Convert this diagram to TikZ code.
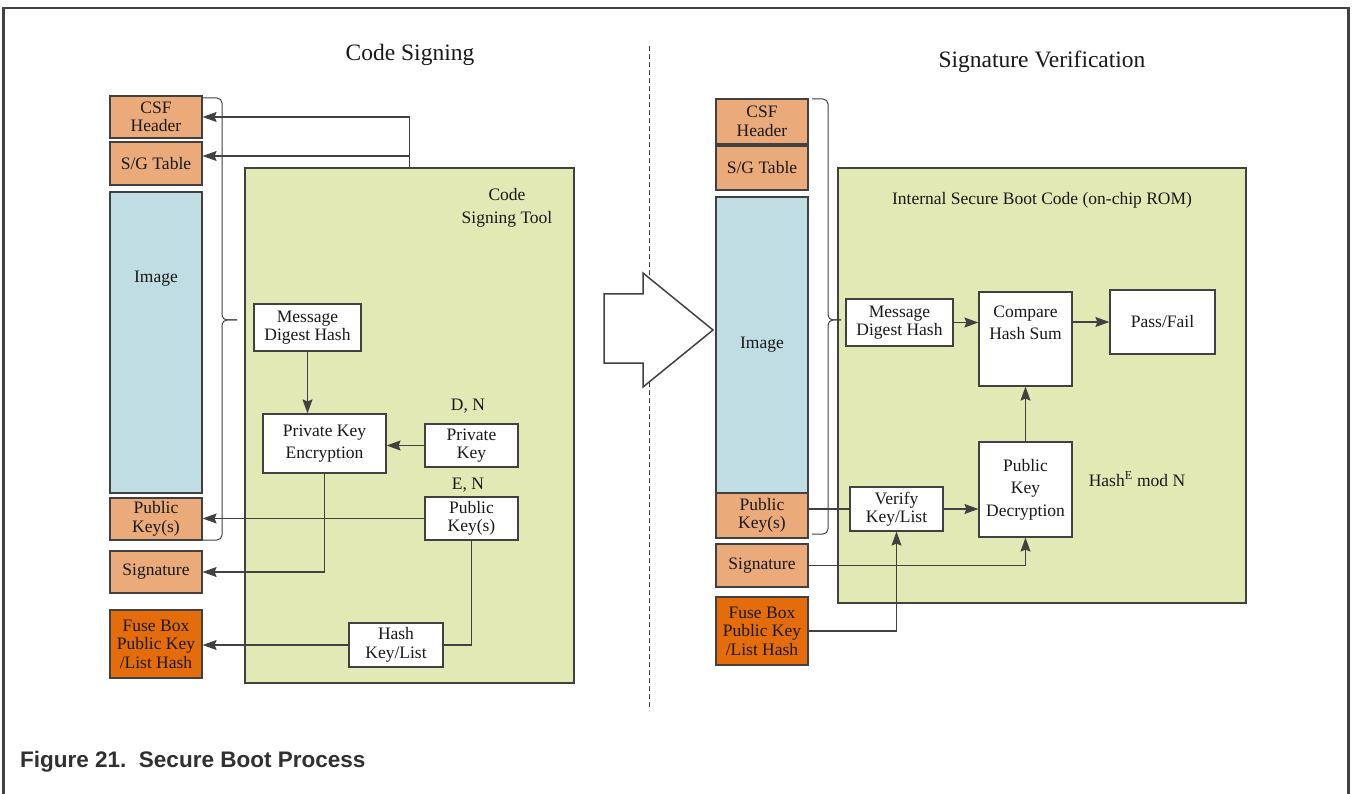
\documentclass[tikz,border=0pt]{standalone}
\usepackage{fontspec}
\setmainfont{Liberation Serif}
\newfontfamily\capfont{Liberation Sans}
\usepackage{tikz}
\usetikzlibrary{positioning}
\usetikzlibrary{arrows.meta}

\definecolor{segcol}{RGB}{235,170,122}
\definecolor{fusecol}{RGB}{228,108,10}
\definecolor{imgcol}{RGB}{192,221,228}
\definecolor{toolcol}{RGB}{226,233,180}
\definecolor{linecol}{RGB}{65,65,65}
\definecolor{textcol}{RGB}{25,25,25}

\tikzset{
	box/.style={draw=linecol,line width=1.2pt,align=center,inner sep=0pt,text=textcol,
		font=\fontsize{17.5}{18.5}\selectfont},
	wide/.style={font=\fontsize{17.5}{22.5}\selectfont},
	seg/.style={box,fill=segcol,minimum width=92pt},
	fuse/.style={box,fill=fusecol,minimum width=92pt},
	img/.style={box,fill=imgcol,minimum width=92pt},
	tool/.style={box,fill=toolcol},
	wbox/.style={box,fill=white},
	txt/.style={text=textcol,align=center,inner sep=0pt,font=\fontsize{17.5}{18.5}\selectfont},
	conn/.style={draw=linecol,line width=1.1pt},
	arr/.style={conn,-{Stealth[length=14pt,width=10pt,inset=2pt]}},
	brc/.style={draw=linecol,line width=1pt,rounded corners=5pt},
}

\begin{document}
\begin{tikzpicture}[x=1pt,y=-1pt]
				\useasboundingbox (0,0) rectangle (1352,794);
				%Frame
				\draw[linecol,line width=2.2pt] (3.5,794) -- (3.5,8) -- (1348.5,8) -- (1348.5,794);
				\draw[linecol,line width=0.6pt,dash pattern=on 5pt off 3pt] (649,46) -- (649,710);
				\node[txt,font=\fontsize{23.5}{26}\selectfont] (lhead) at (410,55) {Code Signing};
				\node[txt,font=\fontsize{23.5}{26}\selectfont] (rhead) at (1042,62) {Signature Verification};
				\node[anchor=base west,inner sep=0pt,text=textcol!90,font=\capfont\bfseries\fontsize{22.5}{26}\selectfont]
					(caption) at (20,767) {Figure 21.\ \ Secure Boot Process};

				%Nodes (code signing)
				\node[seg,minimum height=42pt] 	(lcsf) 	at (156,117) 	{CSF\\Header};
				\node[seg,minimum height=43pt] 	(lsg) 	at (156,163.5) 	{S/G Table};
				\node[img,minimum height=301pt] 	(limg) 	at (156,342.5) 	{};
				\node[txt] 	(limgt) 	at (156,279) 	{Image};
				\node[seg,minimum height=42pt] 	(lpk) 	at (156,519) 	{Public\\Key(s)};
				\node[seg,minimum height=42pt] 	(lsig) 	at (156,572) 	{Signature};
				\node[fuse,minimum height=68pt] 	(lfuse) 	at (156,644) 	{Fuse Box\\Public Key\\/List Hash};

				\node[tool,minimum width=329pt,minimum height=515pt] 	(ltool) 	at (409.5,425.5) 	{};
				\node[txt,wide] 	(ltoolt) 	at (507,208) 	{Code\\Signing Tool};
				\node[wbox,minimum width=107pt,minimum height=47pt] 	(lmdh) 	at (307.5,327.5) 	{Message\\Digest Hash};
				\node[wbox,wide,minimum width=123pt,minimum height=59pt] 	(lpke) 	at (324.5,443.5) 	{Private Key\\Encryption};
				\node[wbox,minimum width=93pt,minimum height=43pt] 	(lprk) 	at (471.5,445.5) 	{Private\\Key};
				\node[txt] 	(ldn) 	at (468,406) 	{D, N};
				\node[wbox,minimum width=93pt,minimum height=43pt] 	(lpub) 	at (471.5,518.5) 	{Public\\Key(s)};
				\node[txt] 	(len) 	at (468,485) 	{E, N};
				\node[wbox,minimum width=94pt,minimum height=44pt] 	(lhash) 	at (396,645) 	{Hash\\Key/List};
				\coordinate 	(ltop) 	at (409.5,117);
				\coordinate 	(lsplit) 	at (409.5,156);

				%Lines (code signing)
				\draw[conn] (ltool.north) -- (ltop);
				\draw[arr] (ltop) -- (ltop -| lcsf.east);
				\draw[arr] (lsplit) -- (lsplit -| lsg.east);
				\draw[arr] (lmdh.south) -- (lmdh.south |- lpke.north);
				\draw[arr] (lprk.west) -- (lprk.west -| lpke.east);
				\draw[arr] (lpke.south) |- (lsig.east);
				\draw[arr] (lpub.west) -- (lpub.west -| lpk.east);
				\draw[conn] (lpub.south) |- (lhash.east);
				\draw[arr] (lhash.west) -- (lhash.west -| lfuse.east);
				\draw[brc] (203,98) -- (222,98) -- (222,320) -- (237,320);
				\draw[brc] (203,540) -- (222,540) -- (222,320) -- (237,320);

				%Big arrow
				\draw[linecol,line width=1.5pt,fill=white] (604,294) -- (643,294) -- (643,273) -- (713,330)
					-- (643,387) -- (643,363) -- (604,363) -- cycle;

				%Nodes (signature verification)
				\node[seg,minimum height=45pt] 	(rcsf) 	at (762,121.5) 	{CSF\\Header};
				\node[seg,minimum height=44pt] 	(rsg) 	at (762,168) 	{S/G Table};
				\node[img,minimum height=296pt] 	(rimg) 	at (762,345) 	{Image};
				\node[seg,minimum height=45pt] 	(rpk) 	at (762,515.5) 	{Public\\Key(s)};
				\node[seg,minimum height=43pt] 	(rsig) 	at (762,565.5) 	{Signature};
				\node[fuse,minimum height=68pt] 	(rfuse) 	at (762,631) 	{Fuse Box\\Public Key\\/List Hash};

				\node[tool,minimum width=408pt,minimum height=435pt] 	(rrom) 	at (1042,385.5) 	{};
				\node[txt] 	(rromt) 	at (1042,200) 	{Internal Secure Boot Code (on-chip ROM)};
				\node[wbox,minimum width=107pt,minimum height=47pt] 	(rmdh) 	at (899.5,322.5) 	{Message\\Digest Hash};
				\node[wbox,minimum width=93pt,minimum height=94pt] 	(rchs) 	at (1025.5,339) 	{};
				\node[txt,wide] 	(rchst) 	at (1025.5,323) 	{Compare\\Hash Sum};
				\node[wbox,minimum width=105pt,minimum height=64pt] 	(rpf) 	at (1162.5,322) 	{Pass/Fail};
				\node[wbox,wide,minimum width=93pt,minimum height=95pt] 	(rpkd) 	at (1025.5,489.5) 	{Public\\Key\\Decryption};
				\node[txt] 	(rmod) 	at (1137,479) 	{Hash\textsuperscript{E} mod N};
				\node[wbox,minimum width=93pt,minimum height=44pt] 	(rvk) 	at (896.5,509) 	{Verify\\Key/List};

				%Lines (signature verification)
				\draw[arr] (rmdh.east) -- (rmdh.east -| rchs.west);
				\draw[arr] (rpf.west -| rchs.east) -- (rpf.west);
				\draw[arr] (rpkd.north) -- (rchs.south);
				\draw[arr] (rvk.east) -- (rvk.east -| rpkd.west);
				\draw[conn] (rvk.west) -- (rvk.west -| rpk.east);
				\draw[arr] (rsig.east) -| (rpkd.south);
				\draw[arr] (rfuse.east) -| (rvk.south);
				\draw[brc] (812,99) -- (828,99) -- (828,320) -- (841,320);
				\draw[brc] (812,534) -- (828,534) -- (828,320) -- (841,320);

		\end{tikzpicture}
\end{document}
